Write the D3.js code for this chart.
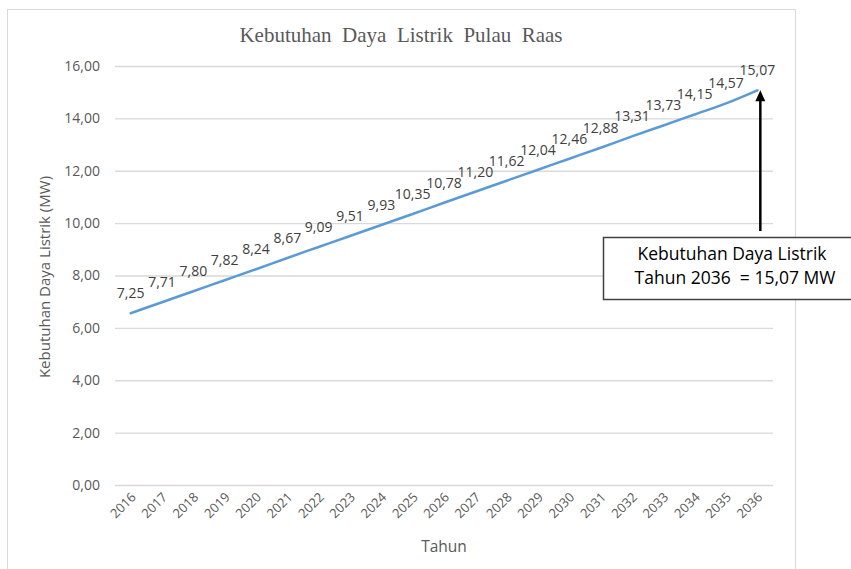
<!DOCTYPE html>
<html>
<head>
<meta charset="utf-8">
<script src="https://cdn.jsdelivr.net/npm/d3@7"></script>
<style>
  html, body { margin: 0; padding: 0; background: #fff; }
  svg { display: block; }
</style>
</head>
<body>
<svg id="chart" width="851" height="569"></svg>
<script>
// ---- data ----
const years = ["2016","2017","2018","2019","2020","2021","2022","2023","2024","2025","2026","2027","2028","2029","2030","2031","2032","2033","2034","2035","2036"];
const lineValues = [6.56, 6.98, 7.40, 7.82, 8.24, 8.67, 9.09, 9.51, 9.93, 10.35, 10.78, 11.20, 11.62, 12.04, 12.46, 12.88, 13.31, 13.73, 14.15, 14.57, 15.07];
const labelTexts = ["7,25","7,71","7,80","7,82","8,24","8,67","9,09","9,51","9,93","10,35","10,78","11,20","11,62","12,04","12,46","12,88","13,31","13,73","14,15","14,57","15,07"];
const yTicks = [0, 2, 4, 6, 8, 10, 12, 14, 16];
const titleText = "Kebutuhan  Daya  Listrik  Pulau  Raas";
const yTitle = "Kebutuhan Daya Listrik (MW)";
const xTitle = "Tahun";
const noteLines = ["Kebutuhan Daya Listrik", "Tahun 2036  = 15,07 MW"];
const noteYear = "2036";
const noteValue = 15.07;

const svg = d3.select("#chart");
const font = "'Open Sans', 'DejaVu Sans', sans-serif";

// outer chart frame
svg.append("rect").attr("x", 7.5).attr("y", 9.5).attr("width", 788).attr("height", 575)
  .attr("fill", "#fff").attr("stroke", "#d9d9d9").attr("stroke-width", 1);

const plot = { left: 115, right: 773, top: 66, bottom: 485 };

const x = d3.scaleBand().domain(years).range([plot.left, plot.right]);
const y = d3.scaleLinear().domain([0, 16]).range([plot.bottom, plot.top]);
const cx = d => x(d) + x.bandwidth() / 2;

// gridlines + y axis
const yAxis = d3.axisLeft(y).tickValues(yTicks).tickSize(-(plot.right - plot.left)).tickPadding(15)
  .tickFormat(d => d3.format(".2f")(d).replace(".", ","));
const gy = svg.append("g").attr("transform", `translate(${plot.left},0)`).call(yAxis);
gy.select(".domain").remove();
gy.selectAll(".tick line").attr("stroke", "#d9d9d9").attr("stroke-width", 1.3);
gy.selectAll(".tick text").attr("fill", "#595959").attr("font-family", font).attr("font-size", 14);

// x axis
const xAxis = d3.axisBottom(x).tickSize(0).tickPadding(0);
const gx = svg.append("g").attr("transform", `translate(0,${plot.bottom})`).call(xAxis);
gx.select(".domain").remove();
gx.selectAll(".tick text")
  .attr("fill", "#595959").attr("font-family", font).attr("font-size", 13)
  .attr("text-anchor", "end").attr("dy", null).attr("y", 0)
  .attr("transform", "translate(6,13) rotate(-45)");

// line
const line = d3.line().x((d, i) => cx(years[i])).y(d => y(d)).curve(d3.curveMonotoneX);
svg.append("path").datum(lineValues).attr("d", line)
  .attr("fill", "none").attr("stroke", "#5b9bd5").attr("stroke-width", 2.5).attr("stroke-linecap", "round");

// data labels
svg.append("g").selectAll("text").data(lineValues).join("text")
  .attr("x", (d, i) => cx(years[i]))
  .attr("y", d => y(d) - 15)
  .attr("text-anchor", "middle")
  .attr("fill", "#404040").attr("font-family", font).attr("font-size", 14)
  .text((d, i) => labelTexts[i]);

// title
svg.append("text").attr("x", 401).attr("y", 42).attr("text-anchor", "middle")
  .attr("fill", "#595959").attr("font-family", "'Liberation Serif', 'DejaVu Serif', serif")
  .attr("font-size", 21).style("white-space", "pre").text(titleText);

// axis titles
svg.append("text").attr("transform", `translate(50,277) rotate(-90)`).attr("text-anchor", "middle")
  .attr("fill", "#595959").attr("font-family", font).attr("font-size", 15).text(yTitle);
svg.append("text").attr("x", 444).attr("y", 552).attr("text-anchor", "middle")
  .attr("fill", "#595959").attr("font-family", font).attr("font-size", 15.5).text(xTitle);

// arrow annotation
const ax = cx(noteYear) + 3;
const tipY = y(noteValue);
svg.append("line").attr("x1", ax).attr("x2", ax).attr("y1", 231).attr("y2", tipY + 8)
  .attr("stroke", "#000").attr("stroke-width", 2.5);
svg.append("path").attr("d", `M${ax},${tipY} L${ax - 5},${tipY + 11} L${ax + 5},${tipY + 11} Z`).attr("fill", "#000");

// note box
svg.append("rect").attr("x", 603.5).attr("y", 237.5).attr("width", 260).attr("height", 62)
  .attr("fill", "#fff").attr("stroke", "#404040").attr("stroke-width", 1.5);
svg.append("g").selectAll("text").data(noteLines).join("text")
  .attr("x", (d, i) => i === 0 ? 732 : 735)
  .attr("y", (d, i) => 260 + i * 24)
  .attr("text-anchor", "middle").attr("fill", "#000")
  .attr("font-family", font).attr("font-size", 17.5).style("white-space", "pre")
  .text(d => d);
</script>
</body>
</html>
